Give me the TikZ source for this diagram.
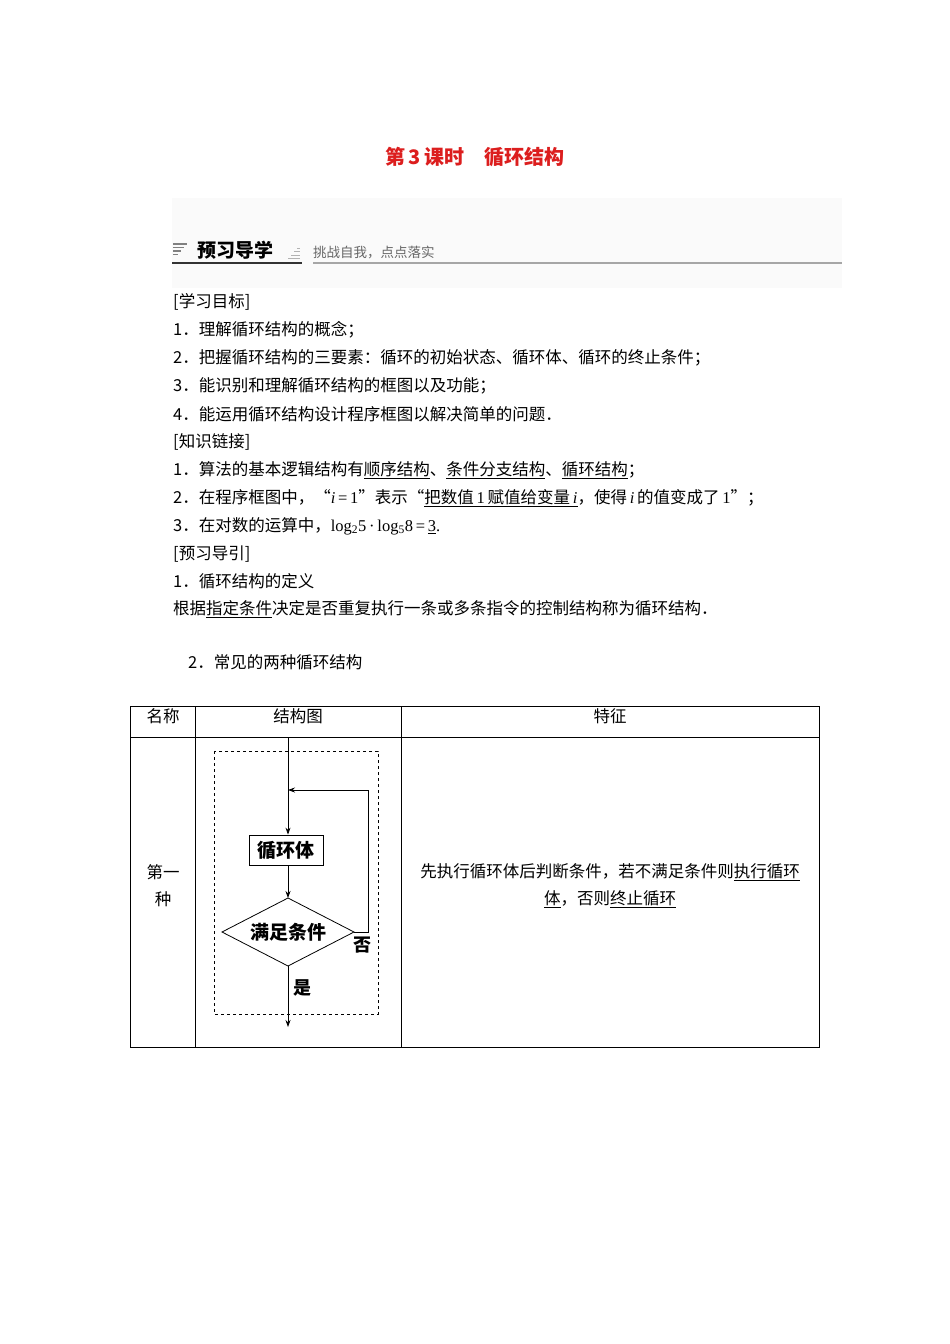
\documentclass[tikz,border=0pt]{standalone}
\usepackage{fontspec}
\setmainfont{Liberation Serif}
\newfontfamily\cjk{Noto Sans CJK SC}
\newcommand{\lat}[1]{{\rmfamily #1}}
\usetikzlibrary{arrows.meta}
\begin{document}
\begin{tikzpicture}[x=1pt,y=-1pt,
  txt/.style={anchor=west,inner sep=0pt,font=\fontsize{16.5}{19}\selectfont\cjk},
  cell/.style={inner sep=0pt,font=\fontsize{16.5}{19}\selectfont\cjk},
  fc/.style={draw,thick,font=\fontsize{19}{22}\selectfont\cjk\bfseries},
  arr/.style={-{Stealth[length=7pt,width=5pt]},thick}]
\useasboundingbox (0,0) rectangle (950,1344);
\fill[white] (0,0) rectangle (950,1344);
% title
\node[font=\fontsize{20}{24}\selectfont\cjk\bfseries,text={rgb,255:red,220;green,30;blue,30}] (title) at (475,157) {第\,3\,课时\quad 循环结构};
% header bar
\fill[gray!4] (172,198) rectangle (842,288);
\foreach \i/\w in {0/14,1/11,2/8,3/5}{\draw[gray,line width=1.2pt] (173,244+\i*3.5) -- (173+\w,244+\i*3.5);}
\node[anchor=west,inner sep=0pt,font=\fontsize{19}{22}\selectfont\cjk\bfseries] (hd) at (197,250) {预习导学};
\foreach \i/\w in {0/3,1/6,2/9,3/12}{\draw[gray!60,line width=1pt] (300-\w,248+\i*3.5) -- (300,248+\i*3.5);}
\draw[black!80,line width=2.2pt] (172,263) -- (302,263);
\draw[gray!70,line width=2pt] (313,263) -- (842,263);
\node[anchor=west,inner sep=0pt,text=gray!80!black,font=\fontsize{13.5}{15}\selectfont\cjk] (sub) at (313,253) {挑战自我，点点落实};
% body text
\node[txt] (l1) at (173,302) {[学习目标]};
\node[txt] (l2) at (173,330) {1．理解循环结构的概念；};
\node[txt] (l3) at (173,358) {2．把握循环结构的三要素：循环的初始状态、循环体、循环的终止条件；};
\node[txt] (l4) at (173,386) {3．能识别和理解循环结构的框图以及功能；};
\node[txt] (l5) at (173,414) {4．能运用循环结构设计程序框图以解决简单的问题．};
\node[txt] (l6) at (173,442) {[知识链接]};
\node[txt] (l7) at (173,470) {1．算法的基本逻辑结构有\underline{顺序结构}、\underline{条件分支结构}、\underline{循环结构}；};
\node[txt] (l8) at (173,498) {2．在程序框图中，“\lat{\textit{i}\,=\,1}”表示“\underline{把数值\,\lat{1}\,赋值给变量\,\lat{\textit{i}}}，使得\,\lat{\textit{i}}\,的值变成了\,\lat{1}”；};
\node[txt] (l9) at (173,526) {3．在对数的运算中，\lat{log\textsubscript{2}5\,·\,log\textsubscript{5}8\,=\,\underline{3}.}};
\node[txt] (l10) at (173,554) {[预习导引]};
\node[txt] (l11) at (173,581) {1．循环结构的定义};
\node[txt] (l12) at (173,609) {根据\underline{指定条件}决定是否重复执行一条或多条指令的控制结构称为循环结构．};
\node[txt] (l13) at (188,662) {2．常见的两种循环结构};
% table
\draw (130,706) rectangle (819,1047);
\draw (130,737) -- (819,737);
\draw (195,706) -- (195,1047);
\draw (401,706) -- (401,1047);
\node[cell] (h1) at (163,716) {名称};
\node[cell] (h2) at (298,716) {结构图};
\node[cell] (h3) at (610,716) {特征};
\node[cell,align=center] (c1) at (163,886) {第一\\[8pt]种};
\node[cell,align=center] (c3) at (610,886) {先执行循环体后判断条件，若不满足条件则\underline{执行循环}\\[8pt]\underline{体}，否则\underline{终止循环}};
% flowchart
\draw[dashed,thick] (214,751) rectangle (378,1014);
\coordinate (top) at (288,737);
\coordinate (join) at (288,790);
\coordinate (out) at (288,1027);
\node[fc,minimum width=74pt,minimum height=30pt,inner sep=0pt] (body) at (286,850) {循环体};
\node[fc,draw=none,inner sep=0pt] (cond) at (288,932) {满足条件};
\draw[thick] (222,932) coordinate (dl) -- (288,898) coordinate (dt) -- (354,932) coordinate (dr) -- (288,966) coordinate (db) -- cycle;
\draw[thick] (top) -- (join);
\draw[arr] (join) -- (body.north -| join);
\draw[arr] (body.south -| join) -- (dt);
\draw[thick] (dr) -- (368,932) -- (368,790);
\draw[arr] (368,790) -- (join);
\draw[arr] (db) -- (out);
\node[font=\fontsize{18}{20}\selectfont\cjk\bfseries,inner sep=0pt] (no) at (362,945) {否};
\node[font=\fontsize{18}{20}\selectfont\cjk\bfseries,inner sep=0pt] (yes) at (302,988) {是};
\end{tikzpicture}
\end{document}
